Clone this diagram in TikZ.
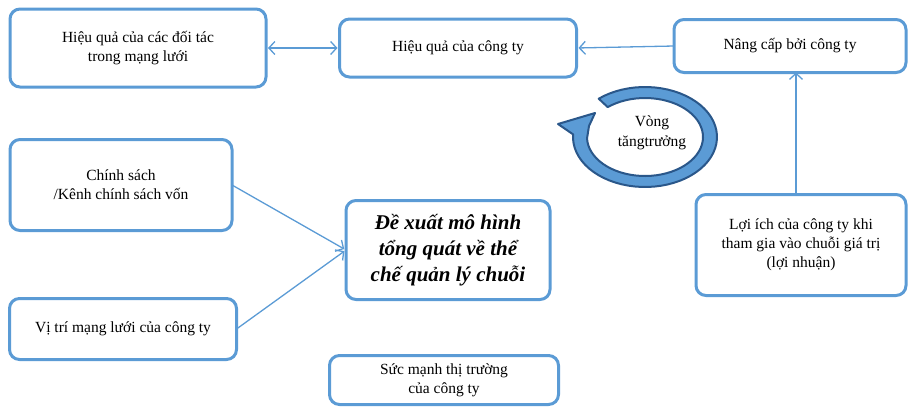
\documentclass[tikz,border=0pt]{standalone}
\usepackage{fontspec}
\setmainfont{Liberation Serif}
\usetikzlibrary{arrows.meta}

\definecolor{boxblue}{HTML}{5B9BD5}
\definecolor{cyclefill}{HTML}{5B9BD5}
\definecolor{cycleline}{HTML}{2A578A}

\begin{document}
\begin{tikzpicture}[x=1pt, y=-1pt,
    box/.style={draw=boxblue, line width=3pt, rounded corners=10pt, align=center,
        inner sep=0pt, outer sep=0pt, font=\fontsize{15.5}{19}\selectfont},
    link/.style={draw=boxblue, line width=1.3pt, shorten >=2pt,
        -{Straight Barb[length=6pt,width=13pt]}}]
    \useasboundingbox (0,0) rectangle (912,408);

    % top row
    \node[box, minimum width=256pt, minimum height=78pt] (partners) at (138,48) {Hiệu quả của các đối tác\\trong mạng lưới};
    \node[box, minimum width=237pt, minimum height=58pt] (firm) at (458,48) {Hiệu quả của công ty};
    \node[box, minimum width=232pt, minimum height=53pt] (upgrade) at (790,46) {Nâng cấp bởi công ty};

    % left side
    \node[box, minimum width=222pt, minimum height=91pt] (policy) at (121,185) {Chính sách\\/Kênh chính sách vốn};
    \node[box, minimum width=227pt, minimum height=61pt] (position) at (123,329) {Vị trí mạng lưới của công ty};

    % centre and bottom
    \node[box, minimum width=204pt, minimum height=99pt,
        font=\fontsize{21}{26}\selectfont\bfseries\itshape] (model) at (448,250) {Đề xuất mô hình\\tổng quát về thể\\chế quản lý chuỗi};
    \node[box, minimum width=229pt, minimum height=49pt] (power) at (444,380) {Sức mạnh thị trường\\của công ty};

    % right side
    \node[box, minimum width=210pt, minimum height=101pt] (benefit) at (801,245) {Lợi ích của công ty khi\\tham gia vào chuỗi giá trị\\(lợi nhuận)};

    % growth loop
    \filldraw[fill=cyclefill, draw=cycleline, line width=2pt, line join=round]
        plot[domain=130:-183, samples=60] ({645+72*cos(\x)},{137-50*sin(\x)})
        -- (558,124) -- (595,113) -- (589,126)
        -- plot[domain=-178:130, samples=60] ({645+58*cos(\x)},{137-39*sin(\x)}) -- cycle;
    \node[align=center, font=\fontsize{15.5}{20}\selectfont] (loop) at (652,133) {Vòng\\tăngtrưởng};

    % connectors
    \draw[link, shorten <=2pt, {Straight Barb[length=6pt,width=13pt]}-{Straight Barb[length=6pt,width=13pt]}] (partners.east) -- (firm.west);
    \draw[link] (upgrade.west) -- (firm.east);
    \draw[link, shorten >=0pt] ([xshift=-5pt]benefit.north) -- ([xshift=-5pt]benefit.north |- upgrade.south);
    \draw[link] (policy.east) -- (model.west);
    \draw[link] (position.east) -- (model.west);
\end{tikzpicture}
\end{document}
